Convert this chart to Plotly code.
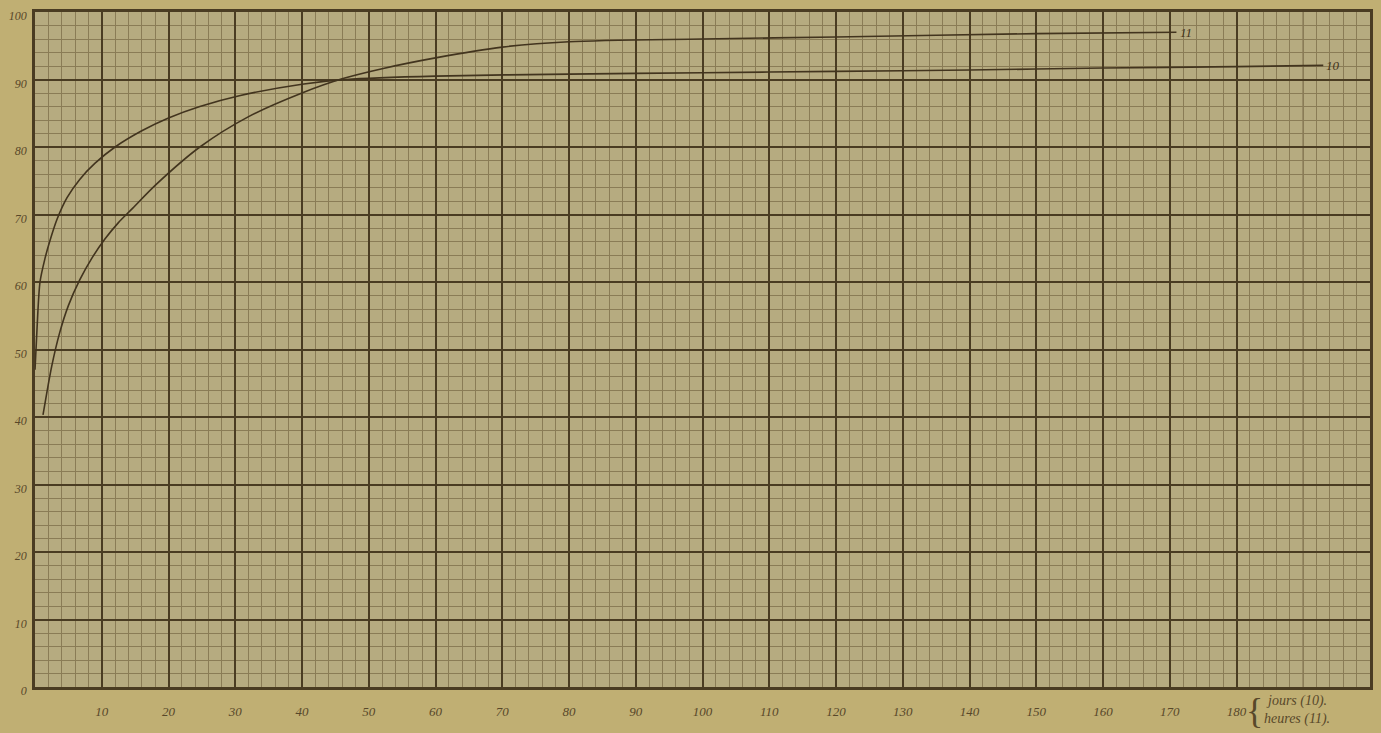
import plotly.graph_objects as go

# Curve 10 (x in jours)
c10_x = [0, 0.3, 0.75, 1.5, 2.2, 3.3, 4.8, 6.7, 9, 12, 16, 20, 24.7, 30.6, 40, 46.6, 60, 80, 100, 120, 140, 160, 180, 193]
c10_y = [47, 53, 60, 63.5, 66, 69.3, 72.5, 75.2, 77.6, 80, 82.4, 84.3, 86, 87.6, 89.3, 90.0, 90.5, 90.8, 91.0, 91.2, 91.4, 91.7, 91.9, 92.1]

# Curve 11 (x in heures)
c11_x = [1.2, 2.5, 3.7, 5, 6.7, 8.5, 10.5, 12.5, 14.5, 18.2, 24.7, 32, 40, 46, 52, 60, 70, 80, 100, 120, 150, 171]
c11_y = [40.3, 47.5, 52.5, 56.5, 60.3, 63.5, 66.4, 68.8, 70.8, 74.5, 80, 84.5, 88, 90.1, 91.6, 93.2, 94.8, 95.6, 96, 96.3, 96.8, 97]

x_tickvals = [10, 20, 30, 40, 50, 60, 70, 80, 90, 100, 110, 120, 130, 140, 150, 160, 170, 180]
x_ticktext = ["10", "20", "30", "40", "50", "60", "70", "80", "90", "100", "110", "120", "130", "140", "150", "160", "170", "180"]
y_tickvals = [0, 10, 20, 30, 40, 50, 60, 70, 80, 90, 100]
y_ticktext = ["0", "10", "20", "30", "40", "50", "60", "70", "80", "90", "100"]

ink = "rgb(66,52,30)"
label_ink = "rgb(88,72,42)"
heavy = "rgb(74,60,34)"
medium = "rgb(100,86,56)"
minor = "rgb(138,124,86)"
paper = "rgb(192,175,115)"
font_fam = "Liberation Serif"

fig = go.Figure()
fig.add_trace(go.Scatter(x=c10_x, y=c10_y, mode="lines", name="10",
                         line=dict(color=ink, width=1.6, shape="spline", smoothing=0.8),
                         showlegend=False))
fig.add_trace(go.Scatter(x=c11_x, y=c11_y, mode="lines", name="11",
                         line=dict(color=ink, width=1.6, shape="spline", smoothing=0.8),
                         showlegend=False))

# medium grid lines (every 10, between heavy 20 lines)
shapes = []
for v in range(10, 200, 20):
    shapes.append(dict(type="line", xref="x", yref="paper", x0=v, x1=v, y0=0, y1=1,
                       line=dict(color=medium, width=1.2), layer="below"))
for v in range(10, 100, 20):
    shapes.append(dict(type="line", xref="paper", yref="y", x0=0, x1=1, y0=v, y1=v,
                       line=dict(color=medium, width=1.2), layer="below"))

W, H = 1381, 733
ml, mr, mt, mb = 35, 8, 12, 46
pw, ph = W - ml - mr, H - mt - mb


def px(xp, yp):
    return (xp - ml) / pw, (H - yp - mb) / ph


annotations = [
    dict(x=c10_x[-1], y=c10_y[-1], xref="x", yref="y", text="10", showarrow=False,
         xanchor="left", yanchor="middle", xshift=1,
         font=dict(family=font_fam, size=13, color=ink, style="italic")),
    dict(x=c11_x[-1], y=c11_y[-1], xref="x", yref="y", text="11", showarrow=False,
         xanchor="left", yanchor="middle", xshift=2,
         font=dict(family=font_fam, size=13, color=ink, style="italic")),
]
bx, by = px(1257, 711)
annotations.append(dict(x=bx, y=by, xref="paper", yref="paper", text="{", showarrow=False,
                        xanchor="center", yanchor="middle",
                        font=dict(family=font_fam, size=36, color=label_ink)))
tx, ty = px(1267, 701)
annotations.append(dict(x=tx, y=ty, xref="paper", yref="paper", text="jours (10).", showarrow=False,
                        xanchor="left", yanchor="middle",
                        font=dict(family=font_fam, size=14, color=label_ink, style="italic")))
tx, ty = px(1265, 719)
annotations.append(dict(x=tx, y=ty, xref="paper", yref="paper", text="heures (11).", showarrow=False,
                        xanchor="left", yanchor="middle",
                        font=dict(family=font_fam, size=14, color=label_ink, style="italic")))

fig.update_layout(
    width=W, height=H,
    margin=dict(l=ml, r=mr, t=mt, b=mb, pad=0),
    paper_bgcolor=paper,
    plot_bgcolor="rgb(182,171,128)",
    shapes=shapes,
    annotations=annotations,
    showlegend=False,
)
fig.update_xaxes(
    range=[0, 200], tickmode="array", tickvals=x_tickvals, ticktext=x_ticktext,
    showgrid=True, gridcolor=heavy, gridwidth=1.6,
    minor=dict(dtick=2, tick0=0, showgrid=True, gridcolor=minor, gridwidth=0.8),
    showline=True, linecolor=heavy, linewidth=2.5, mirror=True,
    ticks="", ticklabelstandoff=11, zeroline=False,
    tickfont=dict(family=font_fam, size=13, color=label_ink, style="italic"),
)
fig.update_yaxes(
    range=[0, 100], tickmode="array", tickvals=y_tickvals, ticktext=y_ticktext,
    showgrid=True, gridcolor=heavy, gridwidth=1.6,
    minor=dict(dtick=2, tick0=0, showgrid=True, gridcolor=minor, gridwidth=0.8),
    showline=True, linecolor=heavy, linewidth=2.5, mirror=True,
    ticks="", ticklabelstandoff=3, ticklabelshift=4, zeroline=False,
    tickfont=dict(family=font_fam, size=12, color=label_ink, style="italic"),
)
fig.update_xaxes(dtick=20)
fig.update_yaxes(dtick=20)

fig.write_html(
    "out.html",
    config={"displayModeBar": False},
    post_script="document.body.style.margin='0';document.body.style.overflow='hidden';"
                "document.body.style.background='" + paper + "';",
)
